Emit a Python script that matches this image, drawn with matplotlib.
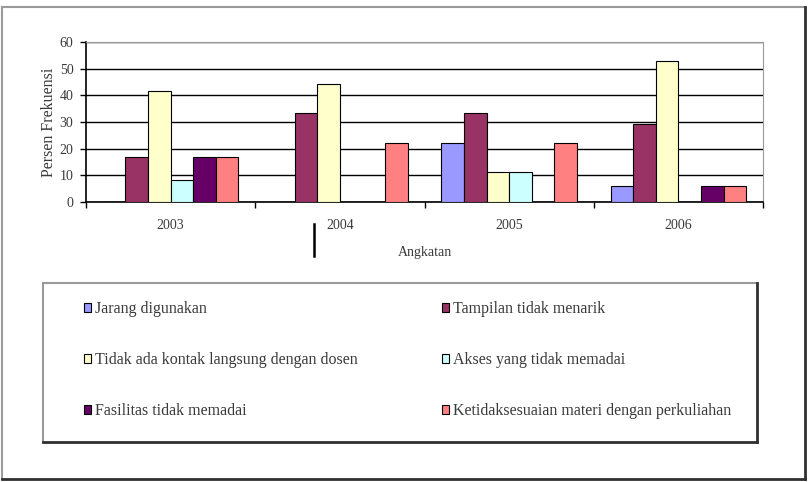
import numpy as np
import matplotlib.pyplot as plt
from matplotlib.lines import Line2D

plt.rcParams['font.family'] = ['Liberation Serif', 'DejaVu Serif']

years = ['2003', '2004', '2005', '2006']
labels = ['Jarang digunakan', 'Tampilan tidak menarik',
          'Tidak ada kontak langsung dengan dosen', 'Akses yang tidak memadai',
          'Fasilitas tidak memadai', 'Ketidaksesuaian materi dengan perkuliahan']
jarang = [0, 0, 22.2, 5.9]
tampilan = [16.7, 33.3, 33.3, 29.4]
tidak_kontak = [41.7, 44.4, 11.1, 52.9]
akses = [8.3, 0, 11.1, 0]
fasilitas = [16.7, 0, 0, 5.9]
ketidak = [16.7, 22.2, 22.2, 5.9]
series = [jarang, tampilan, tidak_kontak, akses, fasilitas, ketidak]
colors = ['#9999FF', '#993366', '#FFFFCC', '#CCFFFF', '#660066', '#FF8080']

W, H = 808, 482
fig = plt.figure(figsize=(W / 100, H / 100), dpi=100)

# outer frame (grey top/left, dark bottom/right)
def frame(x0, y0, x1, y1, light='#9a9a9a', dark='#303030', lw=1.5):
    fx = lambda x: x / W
    fy = lambda y: 1 - y / H
    fig.add_artist(Line2D([fx(x0), fx(x1)], [fy(y0), fy(y0)], color=light, lw=lw))
    fig.add_artist(Line2D([fx(x0), fx(x0)], [fy(y0), fy(y1)], color=light, lw=lw))
    fig.add_artist(Line2D([fx(x0), fx(x1)], [fy(y1), fy(y1)], color=dark, lw=lw + 0.5))
    fig.add_artist(Line2D([fx(x1), fx(x1)], [fy(y0), fy(y1)], color=dark, lw=lw + 0.5))

frame(2, 7, 805, 479)
frame(43, 283, 757, 442)

ax = fig.add_axes([86 / W, 1 - 202 / H, (763 - 86) / W, (202 - 42) / H])
x = np.arange(len(years))
w = 1 / 7.5
for i, (vals, c) in enumerate(zip(series, colors)):
    v = np.array(vals, dtype=float)
    ax.bar(x + (i - 2.5) * w, v, w, color=c, edgecolor='black', linewidth=0.8,
           label=labels[i], zorder=3)

tc = '#3a3a3a'
ax.set_xlim(-0.5, 3.5)
ax.set_ylim(0, 60)
ax.set_yticks(range(0, 61, 10))
ax.set_xticks(x)
ax.set_xticklabels(years)
ax.set_xticks(np.arange(-0.5, 3.6, 1), minor=True)
ax.tick_params(axis='x', which='major', length=0, pad=12, labelsize=10, labelcolor=tc)
ax.tick_params(axis='x', which='minor', length=4, direction='out', width=1)
ax.tick_params(axis='y', length=4, width=1, labelsize=10, labelcolor=tc, pad=5)
ax.yaxis.grid(True, color='black', lw=1, zorder=0)
ax.set_axisbelow(True)
for s in ['top', 'right']:
    ax.spines[s].set_color('#9a9a9a')
for s in ['left', 'bottom']:
    ax.spines[s].set_color('black')
    ax.spines[s].set_linewidth(1.2)
ax.set_ylabel('Persen Frekuensi', fontsize=11.5, labelpad=2, color=tc)
ax.set_xlabel('Angkatan', fontsize=10, labelpad=10, color=tc)

# stray vertical mark below the axis
fig.add_artist(Line2D([314 / W, 314 / W], [1 - 224 / H, 1 - 256 / H], color='black', lw=1.8))

handles, _ = ax.get_legend_handles_labels()
col1 = [handles[0], handles[2], handles[4]]
col2 = [handles[1], handles[3], handles[5]]
kw = dict(frameon=False, fontsize=11.5, handlelength=0.45, handleheight=0.45,
          handletextpad=0.25, labelspacing=2.2, loc='upper left', borderpad=0,
          labelcolor=tc)
leg1 = fig.legend(col1, [labels[0], labels[2], labels[4]],
                  bbox_to_anchor=(76 / W, 1 - 293 / H), **kw)
leg2 = fig.legend(col2, [labels[1], labels[3], labels[5]],
                  bbox_to_anchor=(434 / W, 1 - 293 / H), **kw)

fig.savefig('out.png', dpi=100)
